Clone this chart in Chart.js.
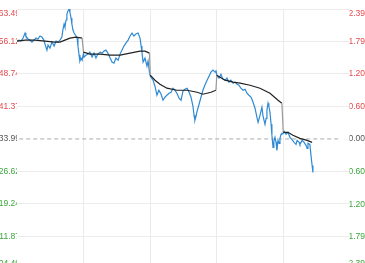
<!DOCTYPE html>
<html>
<head>
<meta charset="utf-8">
<script src="https://cdn.jsdelivr.net/npm/chart.js@4.4.0/dist/chart.umd.min.js"></script>
<style>
html, body { margin: 0; padding: 0; background: #fff; overflow: hidden; width: 365px; height: 263px; }
#wrap { position: absolute; left: -20px; top: 0; width: 385px; height: 274px; }
</style>
</head>
<body>
<div id="wrap"><canvas id="trendChart" width="385" height="274"></canvas></div>
<script>
const prevClose = 1233.99;
const priceTicks = [1263.49, 1256.12, 1248.74, 1241.37, 1233.99, 1226.62, 1219.24, 1211.87, 1204.49];
const pctTicks = [2.39, 1.79, 1.20, 0.60, 0.00, -0.60, -1.20, -1.79, -2.39];
const dayBreaks = [0, 240, 480, 720, 960, 1200];

// minute index over 5 sessions (240 per session) and last price
const minutes = [
  0, 7, 14, 22, 29, 32, 40, 47, 54, 61, 69, 76, 83, 90, 97, 101, 108, 112, 119, 126, 134, 141, 148, 155, 162, 166, 170, 173, 177, 180, 184, 188, 191, 195, 198, 202, 206, 213, 217, 220, 224, 227, 231, 235,
  240, 242, 249, 256, 263, 271, 278, 285, 292, 300, 307, 314, 321, 328, 336, 343, 350, 357, 365, 372, 379, 386, 393, 401, 408, 415, 422, 429, 437, 444, 448, 451, 455, 462, 469, 473, 478,
  481, 491, 498, 505, 512, 520, 527, 534, 541, 549, 556, 563, 570, 577, 585, 592, 599, 606, 614, 621, 628, 635, 639, 642, 646, 650, 657, 664, 671, 678, 686, 693, 700, 707, 715, 718,
  721, 729, 736, 743, 751, 758, 765, 772, 780, 787, 794, 801, 808, 816, 823, 830, 837, 845, 852, 859, 866, 870, 877, 884, 888, 895, 899, 902, 906, 909, 913, 917, 920, 924, 927, 931, 935, 938, 942, 946, 949, 953, 956,
  961, 964, 971, 978, 985, 992, 1000, 1007, 1011, 1018, 1021, 1029, 1036, 1043, 1047, 1050, 1057, 1061, 1065, 1068
];
const prices = [
  1256.21, 1256.43, 1256.21, 1256.89, 1258.03, 1257.35, 1256.66, 1256.43, 1255.98, 1256.43, 1256.89, 1256.66, 1257.35, 1257.12, 1256.43, 1255.52, 1254.16, 1255.30, 1254.61, 1255.98, 1255.07, 1256.21, 1255.98, 1256.43, 1257.12, 1258.94, 1260.08, 1259.39, 1260.99, 1262.35, 1263.04, 1263.49, 1262.81, 1261.44, 1260.08, 1258.71, 1258.03, 1257.35, 1256.89, 1255.07, 1253.02, 1251.66, 1252.34, 1251.88,
  1253.48, 1252.57, 1253.02, 1253.25, 1253.70, 1252.57, 1253.48, 1252.34, 1253.25, 1253.70, 1253.48, 1253.93, 1254.16, 1253.48, 1252.34, 1251.43, 1251.20, 1252.34, 1251.88, 1253.25, 1254.16, 1255.07, 1255.75, 1256.43, 1257.35, 1258.03, 1257.35, 1257.80, 1258.03, 1256.89, 1255.07, 1253.70, 1251.43, 1252.34, 1250.52, 1251.66, 1249.15,
  1248.24, 1247.33, 1245.96, 1243.92, 1245.05, 1244.14, 1242.78, 1243.46, 1243.92, 1244.37, 1244.60, 1245.51, 1245.05, 1244.37, 1243.23, 1242.78, 1244.83, 1245.28, 1245.51, 1244.60, 1243.46, 1241.41, 1239.36, 1238.23, 1239.14, 1240.28, 1241.87, 1243.46, 1245.05, 1246.19, 1247.33, 1248.24, 1249.15, 1249.61, 1249.15, 1249.61,
  1248.47, 1247.79, 1248.70, 1247.56, 1247.33, 1247.79, 1246.88, 1247.33, 1246.65, 1246.88, 1246.42, 1246.19, 1245.51, 1245.05, 1245.28, 1244.37, 1243.92, 1243.46, 1242.32, 1240.96, 1238.91, 1237.77, 1239.36, 1241.19, 1239.14, 1237.32, 1238.68, 1240.50, 1242.10, 1241.41, 1240.05, 1237.32, 1234.81, 1232.08, 1233.45, 1234.36, 1233.22, 1231.40, 1233.67, 1232.99, 1234.13, 1235.04, 1235.27,
  1235.27, 1235.72, 1235.04, 1235.50, 1234.36, 1233.90, 1233.22, 1232.76, 1233.67, 1233.22, 1232.76, 1233.67, 1233.22, 1232.54, 1231.85, 1232.99, 1232.76, 1230.26, 1227.98, 1226.39
];

// session average price
const avgMinutes = [
  0, 29, 65, 101, 137, 155, 173, 191, 213, 235,
  240, 263, 300, 336, 372, 408, 444, 462, 478,
  481, 498, 516, 541, 577, 614, 650, 671, 700, 718,
  721, 751, 780, 805, 841, 877, 913, 942, 956,
  961, 978, 996, 1021, 1047, 1065
];
const avgPrices = [
  1256.21, 1256.43, 1256.43, 1256.21, 1255.98, 1255.98, 1256.43, 1256.89, 1257.12, 1256.89,
  1253.70, 1253.25, 1253.25, 1253.02, 1253.02, 1253.48, 1253.93, 1253.93, 1253.48,
  1248.47, 1247.33, 1246.42, 1245.51, 1245.05, 1245.05, 1244.60, 1244.14, 1244.60, 1245.05,
  1248.47, 1247.33, 1246.88, 1246.65, 1246.19, 1245.51, 1244.37, 1242.78, 1242.10,
  1235.50, 1235.50, 1234.81, 1234.13, 1233.67, 1233.22
];

const upColor = '#e5484d';
const downColor = '#3aa53a';
const flatColor = '#555';

function tickColor(v, base) {
  if (Math.abs(v - base) < 0.001) return flatColor;
  return v > base ? upColor : downColor;
}

const pctMax = (priceTicks[0] / prevClose - 1) * 100;
const pctMin = (priceTicks[priceTicks.length - 1] / prevClose - 1) * 100;
const sameDay = (a, b) => Math.floor(a / 240) === Math.floor(b / 240);
const labelFont = { size: 8.5, family: 'Arial, "Liberation Sans"' };

// keep the top and bottom axis labels inside the plot, like the original
function nudge(item, dy) {
  if (!item || item._nudged) return;
  item._nudged = true;
  item.options.translation[1] += dy;
  if (item.options.backdrop) item.options.backdrop.top += dy;
}
const edgeLabels = {
  id: 'edgeLabels',
  beforeDraw(chart) {
    ['y', 'y1'].forEach(id => {
      const items = chart.scales[id].getLabelItems();
      nudge(items[0], 5);
      nudge(items[items.length - 1], -5);
    });
  }
};

new Chart(document.getElementById('trendChart'), {
  type: 'line',
  data: {
    datasets: [
      {
        label: 'avg',
        data: avgMinutes.map((m, i) => ({ x: m, y: avgPrices[i] })),
        borderColor: '#222', borderWidth: 1.2, pointRadius: 0, tension: 0, order: 0,
        segment: { borderColor: ctx => sameDay(ctx.p0.parsed.x, ctx.p1.parsed.x) ? '#222' : '#999' }
      },
      {
        label: 'price',
        data: minutes.map((m, i) => ({ x: m, y: prices[i] })),
        borderColor: '#2f8ad3', borderWidth: 1.2, pointRadius: 0, tension: 0, order: 1
      },
      {
        label: 'prev',
        data: [{ x: 8, y: prevClose }, { x: 1160, y: prevClose }],
        borderColor: '#aaa', borderWidth: 1, borderDash: [4, 3], pointRadius: 0, order: 2
      }
    ]
  },
  options: {
    responsive: false,
    devicePixelRatio: 1,
    animation: false,
    layout: { padding: { top: 9, bottom: 0, left: 0, right: 0 } },
    plugins: { legend: { display: false }, tooltip: { enabled: false } },
    scales: {
      x: {
        type: 'linear', min: 0, max: 1200,
        afterBuildTicks: s => { s.ticks = dayBreaks.map(v => ({ value: v })); },
        ticks: { display: false },
        grid: { drawTicks: false, color: ctx => (ctx.tick.value === 0 || ctx.tick.value === 1200) ? 'rgba(0,0,0,0)' : '#ebebeb' },
        border: { display: false }
      },
      y: {
        position: 'left', min: priceTicks[priceTicks.length - 1], max: priceTicks[0],
        afterBuildTicks: s => { s.ticks = priceTicks.map(v => ({ value: v })); },
        afterFit: s => { s.width = 37; },
        ticks: {
          padding: -3, font: labelFont,
          showLabelBackdrop: true, backdropColor: '#fff', backdropPadding: { top: 0, bottom: 0, left: 0, right: 1 },
          color: ctx => tickColor(ctx.tick.value, prevClose),
          callback: v => v.toFixed(2)
        },
        grid: { drawTicks: false, color: ctx => Math.abs(ctx.tick.value - prevClose) < 0.001 ? 'rgba(0,0,0,0)' : '#ececec' },
        border: { display: false }
      },
      y1: {
        position: 'right', min: pctMin, max: pctMax,
        afterBuildTicks: s => { s.ticks = pctTicks.map(v => ({ value: v })); },
        afterFit: s => { s.width = 15.5; },
        ticks: {
          padding: 0, font: labelFont, crossAlign: 'far',
          showLabelBackdrop: true, backdropColor: '#fff', backdropPadding: { top: 0, bottom: 0, left: 3, right: 0 },
          color: ctx => tickColor(ctx.tick.value, 0),
          callback: v => v.toFixed(2)
        },
        grid: { drawOnChartArea: false, drawTicks: false },
        border: { display: false }
      }
    }
  },
  plugins: [edgeLabels]
});
</script>
</body>
</html>
